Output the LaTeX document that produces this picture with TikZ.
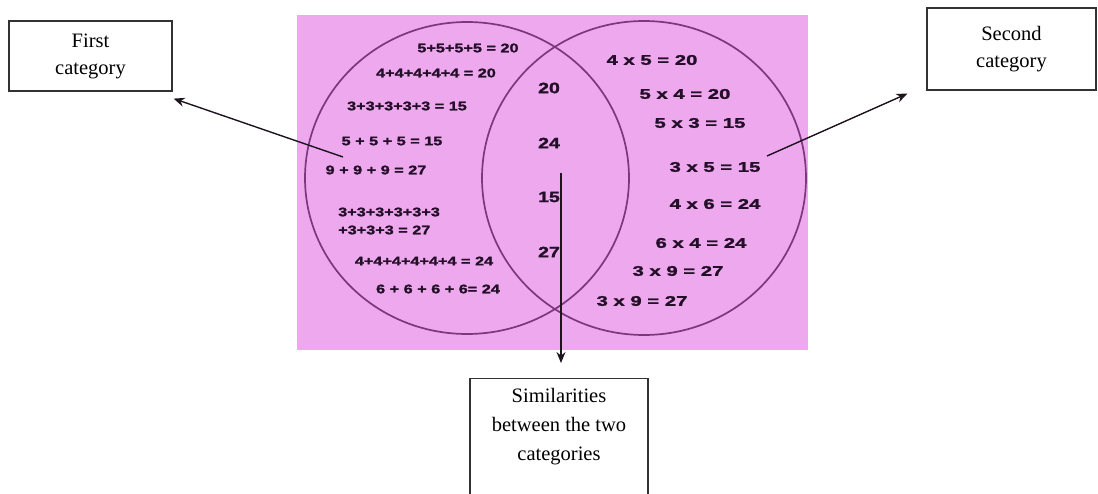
\documentclass[tikz,border=0pt]{standalone}
\usepackage{fontspec}
\setmainfont{Liberation Serif}
\newfontfamily\vennL[FakeStretch=1.3, BoldFeatures={FakeBold=1.6}]{Liberation Sans}
\newfontfamily\vennR[FakeStretch=1.45, BoldFeatures={FakeBold=1.6}]{Liberation Sans}
\usetikzlibrary{arrows.meta}
\definecolor{pinkbg}{RGB}{238,168,238}
\definecolor{circ}{RGB}{125,55,125}
\definecolor{ink}{RGB}{35,15,40}
\definecolor{boxline}{RGB}{50,50,50}
\definecolor{arrink}{RGB}{30,20,30}
\begin{document}
\begin{tikzpicture}[x=1pt,y=-1pt,
  lbox/.style={draw=boxline, line width=1.2pt, align=center, font=\fontsize{20.5}{27}\selectfont, text=black, inner sep=0pt},
  lt/.style={text=ink, font=\vennL\bfseries\fontsize{12.5}{18}\selectfont, inner sep=0pt},
  rt/.style={text=ink, font=\vennR\bfseries\fontsize{14}{18}\selectfont, inner sep=0pt},
  mt/.style={text=ink, font=\vennL\bfseries\fontsize{15}{18}\selectfont, inner sep=0pt},
  arr/.style={draw=arrink, line width=1.4pt, -{Stealth[length=11pt,width=9pt]}},
  ring/.style={draw=circ, line width=1.7pt}]
\useasboundingbox (0,0) rectangle (1098,494);
\clip (0,0) rectangle (1098,494);
\fill[pinkbg] (297,15) rectangle (808,350);
\draw[ring] (467,178) circle [x radius=162pt, y radius=156pt];
\draw[ring] (644,178) circle [x radius=162pt, y radius=157pt];
% left texts
\node[lt] (l1) at (468,48) {5+5+5+5 = 20};
\node[lt] (l2) at (436,73) {4+4+4+4+4 = 20};
\node[lt] (l3) at (407,106) {3+3+3+3+3 = 15};
\node[lt] (l4) at (392,141) {5 + 5 + 5 = 15};
\node[lt] (l5) at (376,170) {9 + 9 + 9 = 27};
\node[lt, align=left, anchor=west] (l6) at (338,221) {3+3+3+3+3+3\\+3+3+3 = 27};
\node[lt] (l7) at (424,261) {4+4+4+4+4+4 = 24};
\node[lt] (l8) at (438,289) {6 + 6 + 6 + 6= 24};
% middle
\node[mt] (m1) at (549,88) {20};
\node[mt] (m2) at (549,143) {24};
\node[mt] (m3) at (549,197) {15};
\node[mt] (m4) at (549,252) {27};
% right
\node[rt] (r1) at (652,60) {4 x 5 = 20};
\node[rt] (r2) at (685,94) {5 x 4 = 20};
\node[rt] (r3) at (700,123) {5 x 3 = 15};
\node[rt] (r4) at (715,167) {3 x 5 = 15};
\node[rt] (r5) at (715,204) {4 x 6 = 24};
\node[rt] (r6) at (701,243) {6 x 4 = 24};
\node[rt] (r7) at (678,271) {3 x 9 = 27};
\node[rt] (r8) at (642,301) {3 x 9 = 27};
% label boxes
\node[lbox, minimum width=163pt, minimum height=70pt] (first) at (90.5,56) {First\\category};
\node[lbox, minimum width=169pt, minimum height=82pt] (second) at (1011.5,49) {Second\\category};
\node[draw=boxline, line width=1.2pt, minimum width=178pt, minimum height=140pt, anchor=north, inner sep=0pt] (simbox) at (559,378) {};
\node[align=center, font=\fontsize{20.5}{29}\selectfont, inner sep=0pt] (simtext) at (559,427) {Similarities\\between the two\\categories};
% arrows
\coordinate (s1) at (343,157);
\coordinate (s2) at (767,156);
\coordinate (s3) at (561,173);
\coordinate (t3) at (561,363);
\draw[arr] (s1) -- ([shift={(1pt,-7pt)}]first.south east);
\draw[arr] (s2) -- ([shift={(-19pt,-3pt)}]second.south west);
\draw[arr] (s3) -- (t3);
\end{tikzpicture}
\end{document}
